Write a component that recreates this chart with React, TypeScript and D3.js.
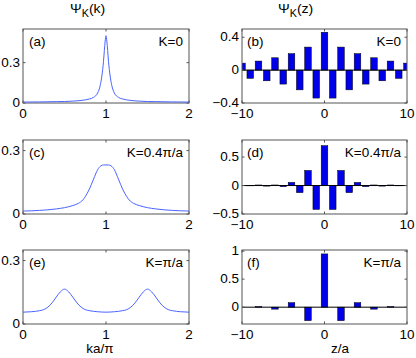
import React from 'react';
import * as d3 from 'd3';

// left column: |Psi_K(k)| curves, sampled in ka/pi
const kA = [0, 0.2, 0.4, 0.5, 0.6, 0.7, 0.8, 0.85, 0.9, 0.93, 0.95, 0.97, 0.98, 0.99, 1.0, 1.01, 1.02, 1.03, 1.05, 1.07, 1.1, 1.15, 1.2, 1.3, 1.4, 1.5, 1.6, 1.8, 2.0];
const psiA = [0.007, 0.008, 0.01, 0.011, 0.014, 0.019, 0.03, 0.042, 0.075, 0.13, 0.2, 0.31, 0.39, 0.46, 0.5, 0.46, 0.39, 0.31, 0.2, 0.13, 0.075, 0.042, 0.03, 0.019, 0.014, 0.011, 0.01, 0.008, 0.007];

const kC = [0, 0.2, 0.4, 0.5, 0.6, 0.67, 0.72, 0.75, 0.8, 0.85, 0.9, 0.94, 0.97, 1.0, 1.03, 1.06, 1.1, 1.15, 1.2, 1.25, 1.28, 1.33, 1.4, 1.5, 1.6, 1.8, 2.0];
const psiC = [0.014, 0.017, 0.024, 0.03, 0.04, 0.051, 0.066, 0.082, 0.118, 0.165, 0.21, 0.228, 0.232, 0.232, 0.232, 0.228, 0.21, 0.165, 0.118, 0.082, 0.066, 0.051, 0.04, 0.03, 0.024, 0.017, 0.014];

const kE = [0, 0.1, 0.2, 0.25, 0.3, 0.35, 0.4, 0.45, 0.5, 0.55, 0.6, 0.65, 0.7, 0.75, 0.8, 0.9, 1.0, 1.1, 1.2, 1.25, 1.3, 1.35, 1.4, 1.45, 1.5, 1.55, 1.6, 1.65, 1.7, 1.75, 1.8, 1.9, 2.0];
const psiE = [0.056, 0.058, 0.063, 0.068, 0.08, 0.1, 0.127, 0.152, 0.165, 0.152, 0.127, 0.1, 0.08, 0.068, 0.063, 0.058, 0.056, 0.058, 0.063, 0.068, 0.08, 0.1, 0.127, 0.152, 0.165, 0.152, 0.127, 0.1, 0.08, 0.068, 0.063, 0.058, 0.056];

// right column: Psi_K(z) at lattice sites z/a = -10..10
const zSites = d3.range(-10, 11);
const psiB = [0.085, -0.1, 0.11, -0.13, 0.15, -0.17, 0.2, -0.24, 0.28, -0.34, 0.46, -0.34, 0.28, -0.24, 0.2, -0.17, 0.15, -0.13, 0.11, -0.1, 0.085];
const psiD = [0.005, -0.005, 0.01, -0.01, 0.01, -0.02, 0.055, -0.125, 0.265, -0.42, 0.7, -0.42, 0.265, -0.125, 0.055, -0.02, 0.01, -0.01, 0.01, -0.005, 0.005];
const psiF = [0, 0, 0.01, 0, -0.035, 0, 0.08, 0, -0.24, 0, 0.95, 0, -0.24, 0, 0.08, 0, -0.035, 0, 0.01, 0, 0];

const panelTags = ['(a)', '(b)', '(c)', '(d)', '(e)', '(f)'];
const kLabels = ['K=0', 'K=0.4π/a', 'K=π/a'];
const kTicks = [0, 1, 2];
const zTicks = [-10, 0, 10];
const curveYDomains = [[0, 0.55], [0, 0.35], [0, 0.35]];
const curveYTicks = [[0, 0.3], [0, 0.3], [0, 0.3]];
const barYDomains = [[-0.4, 0.5], [-0.5, 0.8], [-0.3, 1.02]];
const barYTicks = [[-0.4, 0, 0.4], [-0.5, 0, 0.5], [0, 0.5, 1]];

const FONT = 'Liberation Sans, Arial, sans-serif';
const colX = [[23, 189], [242, 407]];
const rowY = [[29, 103], [140, 214], [250, 324]];
const TL = 2.5;

const fmt = (v: number) => (v < 0 ? '\u2212' + String(-v) : String(v));

function T({ x, y, anchor = 'start', size = 12.5, children }: any) {
  return (
    <text transform={`translate(${x},${y}) scale(1.08,1)`} textAnchor={anchor} fontSize={size} fontFamily={FONT} fill="#000">
      {children}
    </text>
  );
}

function Frame({ x, y, xTicks, yTicks }: any) {
  const [x0, x1] = x.range();
  const [y0, y1] = y.range();
  return (
    <g>
      <rect x={x0} y={y1} width={x1 - x0} height={y0 - y1} fill="none" stroke="#555" strokeWidth={1} />
      {xTicks.map((t: number) => (
        <g key={'x' + t}>
          <line x1={x(t)} x2={x(t)} y1={y0} y2={y0 - TL} stroke="#555" />
          <line x1={x(t)} x2={x(t)} y1={y1} y2={y1 + TL} stroke="#555" />
          <T x={x(t)} y={y0 + 14.5} anchor="middle">{fmt(t)}</T>
        </g>
      ))}
      {yTicks.map((t: number) => (
        <g key={'y' + t}>
          <line x1={x0} x2={x0 + TL} y1={y(t)} y2={y(t)} stroke="#555" />
          <line x1={x1} x2={x1 - TL} y1={y(t)} y2={y(t)} stroke="#555" />
          <T x={x0 - 3} y={y(t) + 4} anchor="end">{fmt(t)}</T>
        </g>
      ))}
    </g>
  );
}

export default function App() {
  const curves = [[kA, psiA], [kC, psiC], [kE, psiE]];
  const bars = [psiB, psiD, psiF];

  return (
    <svg width={416} height={358} style={{ position: 'absolute', left: 0, top: 0, background: '#fff' }}>
      <defs>
        {rowY.map((r, i) => (
          <clipPath id={'clipb' + i} key={i}>
            <rect x={colX[1][0]} y={r[0]} width={colX[1][1] - colX[1][0]} height={r[1] - r[0]} />
          </clipPath>
        ))}
      </defs>

      {curves.map(([ks, vs], i) => {
        const x = d3.scaleLinear().domain([0, 2]).range(colX[0]);
        const y = d3.scaleLinear().domain(curveYDomains[i]).range([rowY[i][1], rowY[i][0]]);
        const line = d3.line<number>()
          .x((_, j) => x(ks[j]))
          .y((d) => y(d))
          .curve(d3.curveMonotoneX);
        return (
          <g key={'c' + i}>
            <Frame x={x} y={y} xTicks={kTicks} yTicks={curveYTicks[i]} />
            <path d={line(vs) || ''} fill="none" stroke="#4a64ff" strokeWidth={1} />
            <T x={colX[0][0] + 6} y={rowY[i][0] + 17}>{panelTags[i * 2]}</T>
            <T x={colX[0][1] - 6} y={rowY[i][0] + 17} anchor="end">{kLabels[i]}</T>
          </g>
        );
      })}

      {bars.map((vs, i) => {
        const x = d3.scaleLinear().domain([-10, 10]).range(colX[1]);
        const y = d3.scaleLinear().domain(barYDomains[i]).range([rowY[i][1], rowY[i][0]]);
        const bw = x(0.4) - x(-0.4);
        return (
          <g key={'b' + i}>
            <g clipPath={`url(#clipb${i})`}>
              {vs.map((v, j) => (
                <rect key={j} x={x(zSites[j]) - bw / 2} width={bw}
                  y={y(Math.max(0, v))} height={Math.abs(y(v) - y(0))}
                  fill="#0000e8" stroke="#000" strokeWidth={0.5} />
              ))}
            </g>
            <line x1={colX[1][0]} x2={colX[1][1]} y1={y(0)} y2={y(0)} stroke="#000" strokeWidth={1} />
            <Frame x={x} y={y} xTicks={zTicks} yTicks={barYTicks[i]} />
            <T x={colX[1][0] + 5} y={rowY[i][0] + 17}>{panelTags[i * 2 + 1]}</T>
            <T x={colX[1][1] - 6} y={rowY[i][0] + 17} anchor="end">{kLabels[i]}</T>
          </g>
        );
      })}

      <text transform="translate(70,13) scale(1.08,1)" fontSize={13} fontFamily={FONT}>
        Ψ<tspan fontSize={10} dy={4}>K</tspan><tspan dy={-4}>(k)</tspan>
      </text>
      <text transform="translate(278,13) scale(1.08,1)" fontSize={13} fontFamily={FONT}>
        Ψ<tspan fontSize={10} dy={4}>K</tspan><tspan dy={-4}>(z)</tspan>
      </text>
      <T x={100} y={353} anchor="middle" size={12.5}>ka/π</T>
      <T x={340} y={353} anchor="middle" size={12.5}>z/a</T>
    </svg>
  );
}
